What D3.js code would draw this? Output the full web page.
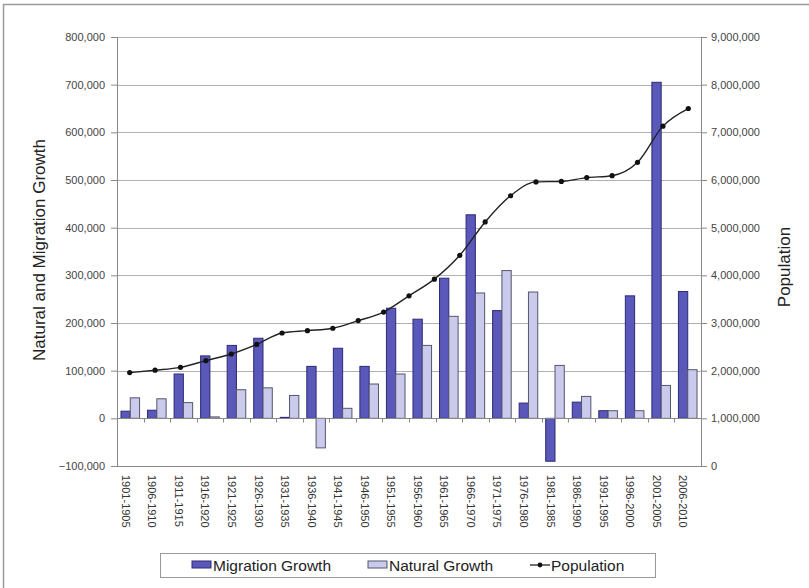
<!DOCTYPE html>
<html>
<head>
<meta charset="utf-8">
<script src="https://cdn.jsdelivr.net/npm/d3@7/dist/d3.min.js"></script>
<style>
  html, body { margin: 0; padding: 0; background: #fff; }
  svg { display: block; font-family: "Liberation Sans", Arial, sans-serif; }
</style>
</head>
<body>
<svg id="chart" width="809" height="588"></svg>
<script>
// Five-year periods
const periods = [
  "1901-1905", "1906-1910", "1911-1915", "1916-1920", "1921-1925", "1926-1930",
  "1931-1935", "1936-1940", "1941-1945", "1946-1950", "1951-1955", "1956-1960",
  "1961-1965", "1966-1970", "1971-1975", "1976-1980", "1981-1985", "1986-1990",
  "1991-1995", "1996-2000", "2001-2005", "2006-2010"
];

// Net migration per period
const migrationGrowth = [
  15000, 17000, 93000, 131000, 153000, 168000,
  2000, 109000, 147000, 109000, 231000, 208000,
  294000, 427000, 226000, 32000, -90000, 34000,
  16000, 257000, 705000, 266000
];

// Births minus deaths per period
const naturalGrowth = [
  43000, 41000, 33000, 3000, 60000, 64000,
  48000, -62000, 21000, 72000, 93000, 153000,
  214000, 263000, 310000, 265000, 111000, 46000,
  16000, 16000, 69000, 102000
];

// Population at each census year (one more point than periods)
const censusYears = [
  1901, 1906, 1911, 1916, 1921, 1926, 1931, 1936, 1941, 1946, 1951, 1956,
  1961, 1966, 1971, 1976, 1981, 1986, 1991, 1996, 2001, 2006, 2011
];
const population = [
  1960000, 2010000, 2070000, 2210000, 2350000, 2550000, 2790000, 2840000,
  2890000, 3050000, 3230000, 3570000, 3920000, 4420000, 5120000, 5670000,
  5960000, 5970000, 6050000, 6090000, 6370000, 7130000, 7500000
];

const leftTicks = [-100000, 0, 100000, 200000, 300000, 400000, 500000, 600000, 700000, 800000];
const rightTicks = [0, 1000000, 2000000, 3000000, 4000000, 5000000, 6000000, 7000000, 8000000, 9000000];

const seriesNames = ["Migration Growth", "Natural Growth", "Population"];

const svg = d3.select("#chart");
const fmt = d3.format(",");

const plot = { left: 117, right: 701, top: 37, bottom: 466 };

// Outer frame (open at right and bottom edges of the view)
svg.append("rect")
  .attr("x", 3.5).attr("y", 4.5)
  .attr("width", 820).attr("height", 600)
  .attr("fill", "#fff")
  .attr("stroke", "#9a9a9a").attr("stroke-width", 1.5);

const x = d3.scaleBand().domain(periods).range([plot.left, plot.right]).padding(0);
// secondary category scale for the population series
const xPop = d3.scaleBand().domain(censusYears).range([plot.left, plot.right]).padding(0);
const yL = d3.scaleLinear().domain([-100000, 800000]).range([plot.bottom, plot.top]);
const yR = d3.scaleLinear().domain([0, 9000000]).range([plot.bottom, plot.top]);

// Horizontal gridlines
svg.append("g").selectAll("line")
  .data(leftTicks.filter(t => t !== -100000))
  .join("line")
  .attr("x1", plot.left).attr("x2", plot.right)
  .attr("y1", d => Math.round(yL(d)) + 0.5).attr("y2", d => Math.round(yL(d)) + 0.5)
  .attr("stroke", "#b0b0b0").attr("stroke-width", 1);

// Left axis
const axL = svg.append("g")
  .attr("transform", `translate(${plot.left},0)`)
  .call(d3.axisLeft(yL).tickValues(leftTicks).tickFormat(fmt).tickSize(6).tickPadding(6));
axL.select(".domain").attr("stroke", "#888");
axL.selectAll(".tick line").attr("stroke", "#888");
axL.selectAll("text").attr("fill", "#444").style("font-size", "11px");

// Right axis
const axR = svg.append("g")
  .attr("transform", `translate(${plot.right},0)`)
  .call(d3.axisRight(yR).tickValues(rightTicks).tickFormat(fmt).tickSize(6).tickPadding(4));
axR.select(".domain").attr("stroke", "#888");
axR.selectAll(".tick line").attr("stroke", "#888");
axR.selectAll("text").attr("fill", "#444").style("font-size", "11px");

// Bottom border of plot
svg.append("line")
  .attr("x1", plot.left).attr("x2", plot.right)
  .attr("y1", plot.bottom + 0.5).attr("y2", plot.bottom + 0.5)
  .attr("stroke", "#888");

// Bars
const bw = x.bandwidth() * 0.35;
const groupOff = x.bandwidth() / 2 - bw;

svg.append("g").selectAll("rect")
  .data(periods.map((p, i) => ({ p, v: migrationGrowth[i] })))
  .join("rect")
  .attr("x", d => x(d.p) + groupOff)
  .attr("width", bw)
  .attr("y", d => yL(Math.max(0, d.v)))
  .attr("height", d => Math.abs(yL(d.v) - yL(0)))
  .attr("fill", "#5a58b8").attr("stroke", "#2c2a78").attr("stroke-width", 1);

svg.append("g").selectAll("rect")
  .data(periods.map((p, i) => ({ p, v: naturalGrowth[i] })))
  .join("rect")
  .attr("x", d => x(d.p) + groupOff + bw)
  .attr("width", bw)
  .attr("y", d => yL(Math.max(0, d.v)))
  .attr("height", d => Math.abs(yL(d.v) - yL(0)))
  .attr("fill", "#cacaec").attr("stroke", "#55556a").attr("stroke-width", 1);

// Category axis on the zero line with small tick marks
const zeroY = Math.round(yL(0)) + 0.5;
svg.append("line")
  .attr("x1", plot.left).attr("x2", plot.right)
  .attr("y1", zeroY).attr("y2", zeroY)
  .attr("stroke", "#888");
svg.append("g").selectAll("line")
  .data(periods.slice(1))
  .join("line")
  .attr("x1", d => Math.round(x(d)) + 0.5).attr("x2", d => Math.round(x(d)) + 0.5)
  .attr("y1", zeroY).attr("y2", zeroY + 4)
  .attr("stroke", "#888");

// Category labels, rotated
svg.append("g").selectAll("text")
  .data(periods)
  .join("text")
  .attr("transform", d => `translate(${x(d) + x.bandwidth() / 2 - 8.5},${plot.bottom + 9}) rotate(90)`)
  .attr("text-anchor", "start")
  .attr("fill", "#333")
  .style("font-size", "11px")
  .text(d => d);

// Population line
const popX = i => xPop(censusYears[i]) + xPop.bandwidth() / 2;
const line = d3.line()
  .x((d, i) => popX(i))
  .y(d => yR(d))
  .curve(d3.curveMonotoneX);

svg.append("path")
  .datum(population)
  .attr("d", line)
  .attr("fill", "none").attr("stroke", "#222").attr("stroke-width", 1.4);

svg.append("g").selectAll("circle")
  .data(population)
  .join("circle")
  .attr("cx", (d, i) => popX(i))
  .attr("cy", d => yR(d))
  .attr("r", 2.6)
  .attr("fill", "#111");

// Axis titles
svg.append("text")
  .attr("transform", `translate(45,250) rotate(-90)`)
  .attr("text-anchor", "middle")
  .attr("fill", "#222")
  .style("font-size", "17px")
  .text("Natural and Migration Growth");

svg.append("text")
  .attr("transform", `translate(790,267) rotate(-90)`)
  .attr("text-anchor", "middle")
  .attr("fill", "#222")
  .style("font-size", "17px")
  .text("Population");

// Legend
const lg = svg.append("g");
lg.append("rect")
  .attr("x", 160.5).attr("y", 553.5).attr("width", 495).attr("height", 24)
  .attr("fill", "#fff").attr("stroke", "#999");

const legendItems = [
  { name: seriesNames[0], x: 192, type: "bar", fill: "#5a58b8", stroke: "#2c2a78" },
  { name: seriesNames[1], x: 368, type: "bar", fill: "#cacaec", stroke: "#55556a" },
  { name: seriesNames[2], x: 530, type: "line" }
];
legendItems.forEach(it => {
  if (it.type === "bar") {
    lg.append("rect").attr("x", it.x).attr("y", 561).attr("width", 19).attr("height", 7)
      .attr("fill", it.fill).attr("stroke", it.stroke);
  } else {
    lg.append("line").attr("x1", it.x).attr("x2", it.x + 20).attr("y1", 565).attr("y2", 565)
      .attr("stroke", "#222").attr("stroke-width", 1.3);
    lg.append("circle").attr("cx", it.x + 10).attr("cy", 565).attr("r", 2.4).attr("fill", "#111");
  }
  lg.append("text").attr("x", it.x + 21).attr("y", 571)
    .attr("fill", "#222").style("font-size", "15.5px").text(it.name);
});
</script>
</body>
</html>
